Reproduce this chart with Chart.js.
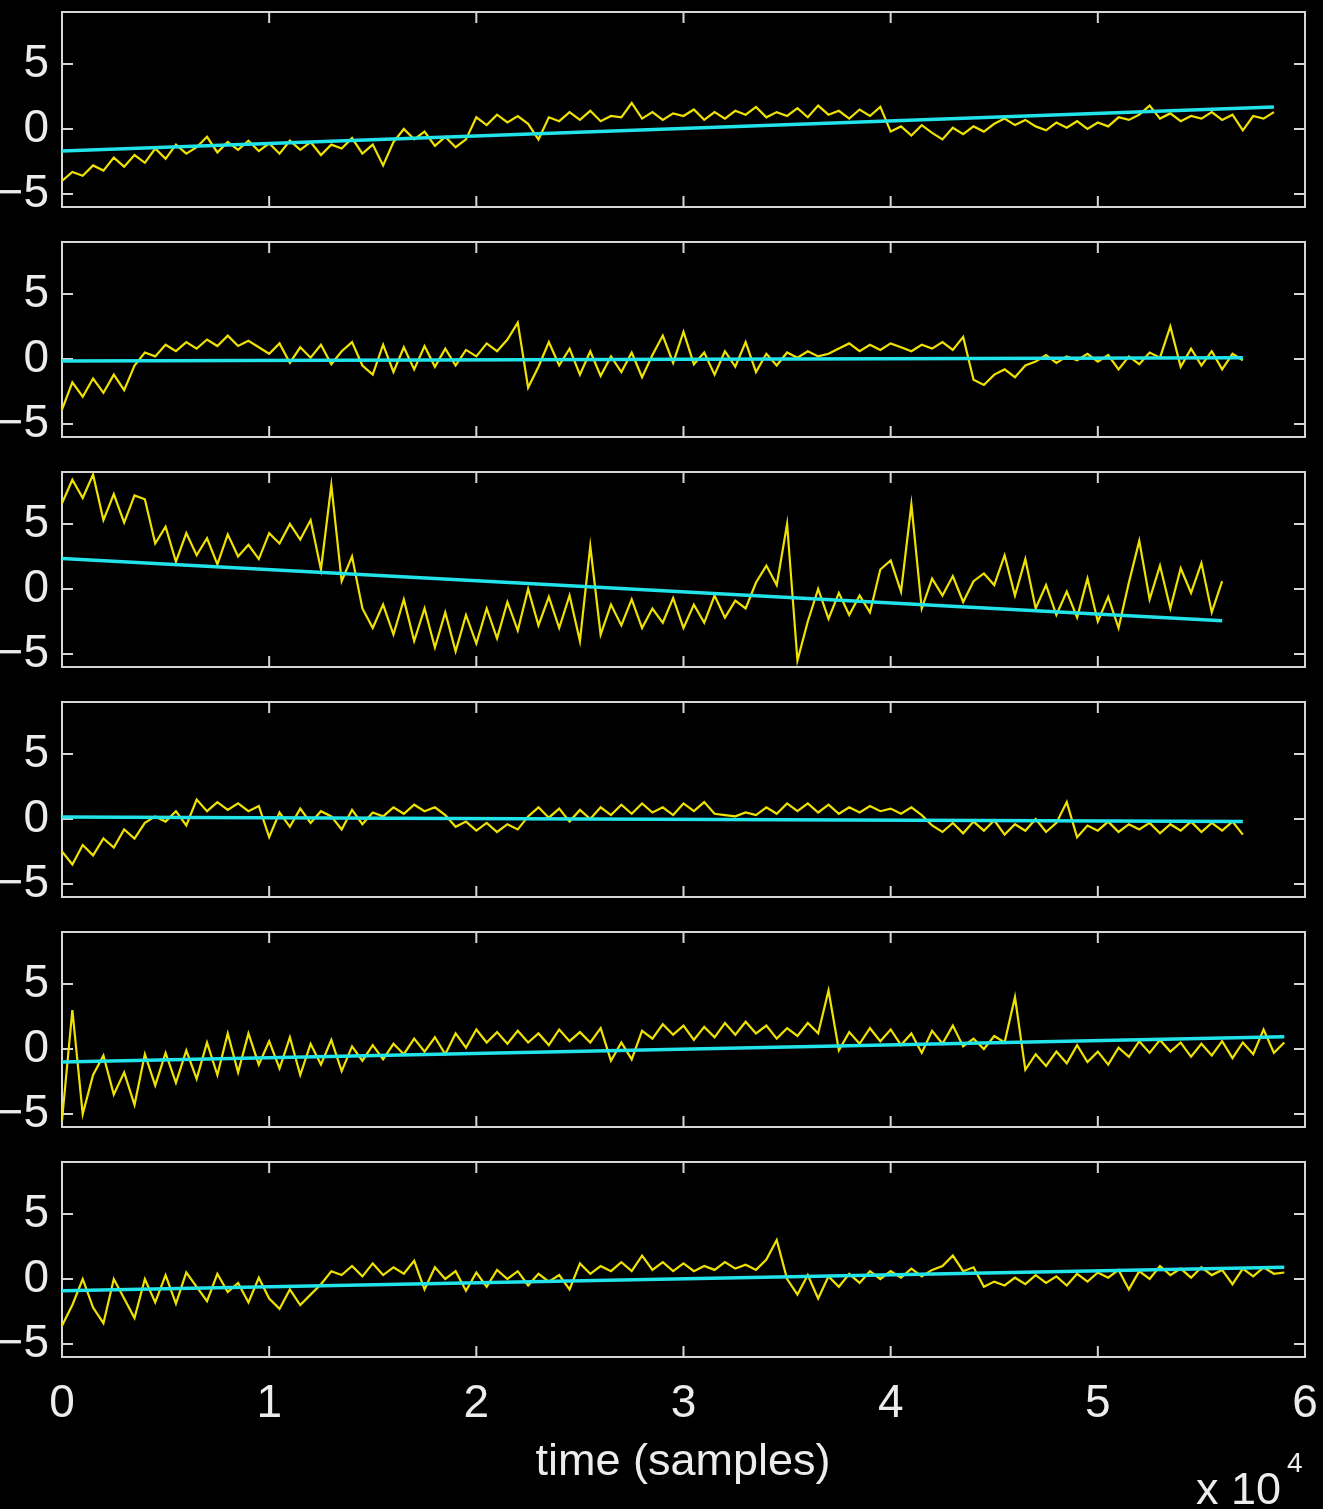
<!DOCTYPE html>
<html>
<head>
<meta charset="utf-8">
<script src="https://cdn.jsdelivr.net/npm/chart.js@4.4.1/dist/chart.umd.min.js"></script>
<style>
  html, body { margin: 0; padding: 0; background: #000; }
  #wrap { position: relative; width: 1323px; height: 1509px; background: #000; overflow: hidden; }
  #wrap canvas { position: absolute; left: 0; }
</style>
</head>
<body>
<div id="wrap"></div>
<script>
// time axis in units of 10^4 samples, one value every 0.05
const sampleStep = 0.05;
const xTicks = [0, 1, 2, 3, 4, 5, 6];
const yTicks = [-5, 0, 5];

const signal1 = [
  -4.0, -3.3, -3.6, -2.8, -3.2, -2.2, -2.9, -2.0, -2.6, -1.5,
  -2.3, -1.2, -1.9, -1.4, -0.6, -1.8, -1.0, -1.6, -0.9, -1.7,
  -1.1, -1.9, -0.9, -1.6, -1.0, -2.0, -1.2, -1.5, -0.7, -1.9,
  -1.2, -2.8, -1.0, 0.0, -0.8, -0.2, -1.3, -0.6, -1.4, -0.8,
  0.9, 0.3, 1.1, 0.5, 1.0, 0.4, -0.8, 0.9, 0.6, 1.3,
  0.7, 1.4, 0.6, 1.0, 0.9, 2.0, 0.8, 1.3, 0.7, 1.2,
  1.0, 1.5, 0.7, 1.3, 0.8, 1.4, 1.1, 1.7, 0.9, 1.3,
  1.0, 1.6, 0.9, 1.8, 1.1, 1.4, 0.8, 1.5, 1.0, 1.7,
  -0.2, 0.2, -0.5, 0.3, -0.3, -0.8, 0.1, -0.4, 0.2, -0.2,
  0.4, 0.8, 0.3, 0.7, 0.2, -0.1, 0.5, 0.1, 0.6, 0.0,
  0.5, 0.2, 0.9, 0.7, 1.1, 1.8, 0.8, 1.2, 0.6, 1.0,
  0.8, 1.3, 0.7, 1.1, -0.1, 1.0, 0.8, 1.3
];
const signal2 = [
  -3.9, -1.8, -2.9, -1.5, -2.6, -1.2, -2.4, -0.5, 0.5, 0.2,
  1.1, 0.6, 1.3, 0.8, 1.5, 1.0, 1.8, 1.0, 1.4, 0.9,
  0.4, 1.2, -0.3, 0.9, 0.1, 1.1, -0.4, 0.6, 1.3, -0.5,
  -1.2, 1.1, -1.0, 0.9, -0.8, 1.0, -0.6, 0.8, -0.5, 0.7,
  0.2, 1.2, 0.6, 1.5, 2.8, -2.2, -0.6, 1.3, -0.5, 0.8,
  -1.2, 0.6, -1.3, 0.2, -1.0, 0.5, -1.4, 0.3, 1.8, -0.3,
  2.1, -0.4, 0.5, -1.2, 0.6, -0.6, 1.3, -1.0, 0.4, -0.5,
  0.5, 0.1, 0.6, 0.2, 0.4, 0.8, 1.2, 0.6, 1.1, 0.7,
  1.2, 0.9, 0.6, 1.1, 0.8, 1.3, 0.7, 1.7, -1.6, -2.0,
  -1.2, -0.8, -1.4, -0.5, -0.2, 0.3, -0.3, 0.2, -0.1, 0.4,
  -0.2, 0.3, -0.8, 0.2, -0.4, 0.5, 0.1, 2.5, -0.6, 0.8,
  -0.5, 0.6, -0.8, 0.4, -0.1
];
const signal3 = [
  6.6, 8.4, 7.0, 8.8, 5.3, 7.3, 5.1, 7.2, 6.9, 3.5,
  4.8, 2.1, 4.3, 2.6, 3.9, 1.9, 4.2, 2.5, 3.4, 2.3,
  4.3, 3.5, 5.0, 3.8, 5.3, 1.5, 8.0, 0.6, 2.5, -1.5,
  -3.0, -1.2, -3.5, -0.8, -4.0, -1.5, -4.5, -1.8, -4.8, -2.0,
  -4.2, -1.5, -3.8, -1.0, -3.2, 0.0, -2.8, -0.6, -3.0, -0.5,
  -4.0, 3.3, -3.5, -1.2, -2.8, -0.8, -3.0, -1.5, -2.6, -0.7,
  -3.0, -1.2, -2.6, -0.5, -2.2, -0.9, -1.5, 0.5, 1.8, 0.3,
  5.0, -5.5, -2.5, 0.0, -2.3, -0.3, -2.0, -0.5, -1.8, 1.5,
  2.2, -0.2, 6.5, -1.5, 0.8, -0.5, 1.0, -1.0, 0.6, 1.2,
  0.3, 2.6, -0.5, 2.3, -1.5, 0.3, -2.0, -0.2, -2.2, 0.8,
  -2.5, -0.6, -3.0, 0.5, 3.7, -0.8, 1.8, -1.5, 1.6, -0.3,
  2.0, -1.8, 0.6
];
const signal4 = [
  -2.5, -3.5, -2.0, -2.8, -1.5, -2.2, -0.8, -1.5, -0.3, 0.2,
  -0.2, 0.6, -0.5, 1.5, 0.6, 1.3, 0.7, 1.2, 0.6, 1.0,
  -1.4, 0.5, -0.6, 0.8, -0.3, 0.6, 0.2, -0.8, 0.7, -0.4,
  0.5, 0.2, 0.9, 0.4, 1.1, 0.6, 0.9, 0.3, -0.6, -0.2,
  -0.9, -0.3, -1.0, -0.4, -0.8, 0.2, 0.9, 0.1, 0.8, -0.2,
  0.7, 0.0, 0.9, 0.3, 1.1, 0.4, 1.2, 0.5, 0.9, 0.3,
  1.2, 0.6, 1.3, 0.4, 0.3, 0.2, 0.5, 0.3, 0.9, 0.4,
  1.2, 0.6, 1.2, 0.5, 1.1, 0.4, 0.9, 0.5, 1.0, 0.6,
  0.8, 0.4, 0.9, 0.3, -0.5, -1.0, -0.3, -1.1, -0.2, -0.9,
  -0.1, -1.2, -0.4, -0.9, 0.0, -1.0, -0.3, 1.3, -1.4, -0.5,
  -0.9, -0.2, -1.0, -0.4, -0.8, -0.3, -1.1, -0.4, -0.9, -0.2,
  -1.0, -0.3, -0.9, -0.2, -1.2
];
const signal5 = [
  -5.5, 3.0, -5.0, -2.0, -0.5, -3.5, -1.8, -4.3, -0.4, -2.8,
  -0.3, -2.6, -0.1, -2.3, 0.5, -2.0, 1.2, -1.8, 1.2, -1.2,
  0.6, -1.5, 0.9, -2.0, 0.4, -1.2, 0.7, -1.7, 0.2, -0.9,
  0.3, -0.8, 0.4, -0.4, 0.8, -0.2, 0.9, -0.4, 1.2, 0.1,
  1.5, 0.5, 1.3, 0.4, 1.4, 0.5, 1.2, 0.3, 1.5, 0.6,
  1.3, 0.5, 1.6, -0.9, 0.5, -0.8, 1.4, 0.8, 1.9, 1.1,
  1.8, 0.7, 1.7, 0.9, 2.0, 1.1, 2.1, 1.2, 1.8, 0.8,
  1.6, 1.0, 2.0, 1.2, 4.5, -0.1, 1.3, 0.4, 1.6, 0.6,
  1.5, 0.3, 1.2, -0.3, 1.4, 0.4, 1.8, 0.2, 0.8, 0.0,
  1.0, 0.5, 4.0, -1.6, -0.4, -1.3, -0.2, -1.1, 0.3, -1.0,
  -0.2, -1.2, 0.1, -0.6, 0.6, -0.3, 0.7, -0.2, 0.5, -0.6,
  0.4, -0.5, 0.6, -0.7, 0.5, -0.4, 1.5, -0.3, 0.5
];
const signal6 = [
  -3.6, -2.0, 0.0, -2.2, -3.4, 0.0, -1.5, -3.0, 0.0, -1.8,
  0.3, -1.9, 0.5, -0.6, -1.7, 0.4, -1.0, -0.3, -1.8, 0.1,
  -1.5, -2.3, -0.8, -2.0, -1.2, -0.4, 0.6, 0.3, 1.0, 0.2,
  1.2, 0.3, 0.9, 0.4, 1.4, -0.8, 0.9, 0.0, 0.6, -0.9,
  0.5, -0.6, 0.7, 0.0, 0.6, -0.5, 0.4, -0.2, 0.3, -0.8,
  1.2, 0.4, 1.0, 0.6, 1.3, 0.6, 1.8, 0.7, 1.3, 0.6,
  1.2, 0.6, 1.0, 0.7, 1.3, 0.8, 1.1, 0.7, 1.5, 3.0,
  0.0, -1.2, 0.3, -1.5, 0.2, -0.6, 0.4, -0.3, 0.6, 0.0,
  0.6, 0.1, 0.8, 0.2, 0.7, 1.0, 1.8, 0.6, 0.9, -0.6,
  -0.2, -0.5, 0.1, -0.4, 0.3, -0.3, 0.2, -0.5, 0.4, -0.2,
  0.5, 0.1, 0.7, -0.8, 0.6, 0.0, 1.0, 0.3, 0.8, 0.1,
  0.9, 0.3, 0.7, -0.4, 0.8, 0.2, 0.9, 0.4, 0.5
];

// straight fitted trend lines (value at start, value at end of each trace)
const trendStart = [-1.7, -0.15, 2.35, 0.15, -1.0, -0.9];
const trendEnd = [1.7, 0.1, -2.45, -0.2, 0.95, 0.9];

const signals = [signal1, signal2, signal3, signal4, signal5, signal6];

const fontFamily = "'Liberation Sans', Arial, Helvetica, sans-serif";
const textColor = '#ececec';
const boxColor = '#d6d6d6';

const axesBox = {
    id: 'axesBox',
    beforeDatasetsDraw(chart) {
        const { ctx, chartArea: a, scales } = chart;
        const tl = 11;
        ctx.save();
        ctx.strokeStyle = boxColor;
        ctx.lineWidth = 2;
        ctx.strokeRect(a.left, a.top, a.width, a.height);
        ctx.beginPath();
        xTicks.forEach(v => {
            const px = scales.x.getPixelForValue(v);
            ctx.moveTo(px, a.top); ctx.lineTo(px, a.top + tl);
            ctx.moveTo(px, a.bottom); ctx.lineTo(px, a.bottom - tl);
        });
        yTicks.forEach(v => {
            const py = scales.y.getPixelForValue(v);
            ctx.moveTo(a.left, py); ctx.lineTo(a.left + tl, py);
            ctx.moveTo(a.right, py); ctx.lineTo(a.right - tl, py);
        });
        ctx.stroke();
        ctx.restore();
    }
};

const axisLabels = {
    id: 'axisLabels',
    afterDraw(chart) {
        const ctx = chart.ctx;
        ctx.save();
        ctx.fillStyle = textColor;
        ctx.textBaseline = 'alphabetic';
        ctx.font = '45px ' + fontFamily;
        ctx.textAlign = 'center';
        ctx.fillText('time (samples)', 683, 325);
        ctx.textAlign = 'right';
        ctx.fillText('x 10', 1281, 354);
        ctx.font = '28px ' + fontFamily;
        ctx.textAlign = 'left';
        ctx.fillText('4', 1287, 322);
        ctx.restore();
    }
};

const noPad = s => {
    s.paddingTop = 0;
    s.paddingBottom = 0;
    s.paddingLeft = 0;
    s.paddingRight = 0;
};

const wrap = document.getElementById('wrap');

signals.forEach((vals, i) => {
    const last = i === signals.length - 1;
    const canvas = document.createElement('canvas');
    const h = last ? 359 : 230;
    canvas.width = 1323;
    canvas.height = h;
    canvas.style.top = (230 * i) + 'px';
    wrap.appendChild(canvas);

    const trace = vals.map((v, k) => ({ x: k * sampleStep, y: v }));
    const endX = (vals.length - 1) * sampleStep;

    new Chart(canvas, {
        type: 'line',
        data: {
            datasets: [
                {
                    data: [{ x: 0, y: trendStart[i] }, { x: endX, y: trendEnd[i] }],
                    borderColor: '#22e2ea',
                    borderWidth: 3.5,
                    pointRadius: 0,
                    tension: 0
                },
                {
                    data: trace,
                    borderColor: '#f0e200',
                    borderWidth: 2.2,
                    pointRadius: 0,
                    tension: 0
                }
            ]
        },
        options: {
            responsive: false,
            animation: false,
            devicePixelRatio: 1,
            layout: { padding: { top: 12, right: 18, left: 0, bottom: last ? 0 : 23 } },
            plugins: { legend: { display: false }, tooltip: { enabled: false } },
            scales: {
                x: {
                    type: 'linear',
                    min: 0,
                    max: 6,
                    display: last,
                    afterBuildTicks: s => { s.ticks = xTicks.map(v => ({ value: v })); },
                    afterFit: s => { s.height = last ? 152 : 0; noPad(s); },
                    grid: { display: false, drawTicks: false },
                    border: { display: false },
                    ticks: {
                        autoSkip: false,
                        maxRotation: 0,
                        padding: 20,
                        color: textColor,
                        font: { size: 46, family: fontFamily }
                    }
                },
                y: {
                    type: 'linear',
                    min: -6,
                    max: 9,
                    afterBuildTicks: s => { s.ticks = yTicks.map(v => ({ value: v })); },
                    afterFit: s => { s.width = 62; noPad(s); },
                    grid: { display: false, drawTicks: false },
                    border: { display: false },
                    ticks: {
                        padding: 13,
                        color: textColor,
                        font: { size: 46, family: fontFamily },
                        callback: v => (v < 0 ? '\u2212' + Math.abs(v) : String(v))
                    }
                }
            }
        },
        plugins: last ? [axesBox, axisLabels] : [axesBox]
    });
});
</script>
</body>
</html>
